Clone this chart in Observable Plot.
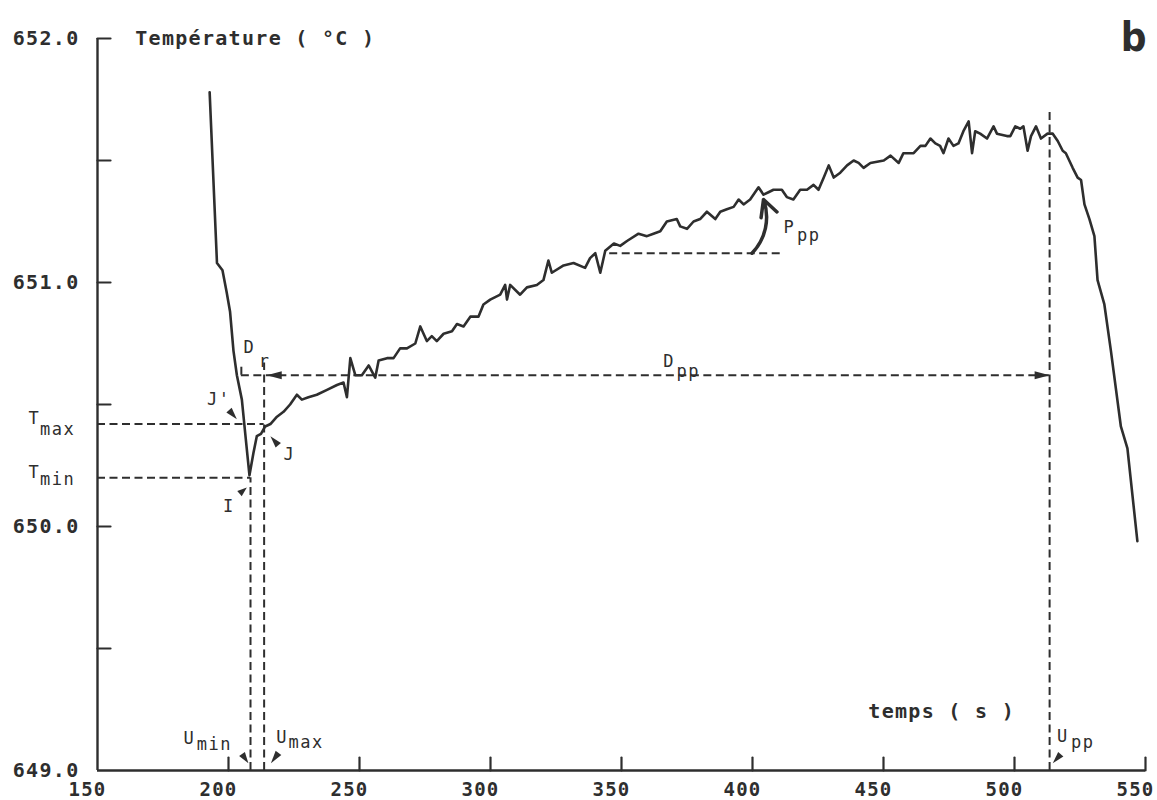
<!DOCTYPE html>
<html>
<head>
<meta charset="utf-8">
<script src="https://cdn.jsdelivr.net/npm/d3@7"></script>
<script src="https://cdn.jsdelivr.net/npm/@observablehq/plot@0.6"></script>
<style>
  html, body { margin: 0; padding: 0; background: #fff; }
  #chart svg { display: block; }
</style>
</head>
<body>
<div id="chart"></div>
<script>
// ---- data: temperature (°C) vs time (s) ----
const time = [192.8,195.6,197.7,199.3,200.6,201.9,203.2,205.1,206.4,208,209.5,210.8,212.4,214,216,218.5,221,223.5,226.1,228,230.5,233.7,237.6,241.4,243.9,245.2,246.5,248.4,250.9,253.5,256,257.3,260.5,263,265.5,268.1,271.3,273.2,275.7,277.6,279.5,282.1,285.3,287.2,289.7,292.3,295.4,297.3,299.9,303.7,305.6,306.3,307.5,311.3,313.9,317.7,320.2,322.1,323.4,327.9,331.7,336.1,338,340,341.9,343.8,347.1,349.5,352.1,356.5,359.7,362.2,364.8,367.3,371.1,372.4,375,377.5,380,382.6,385.8,387.7,390.2,392.8,394.7,396.6,399.1,402.3,404.2,406.1,408,411.2,413.1,415.6,418.2,420.8,423.3,425.2,427.2,429.1,431,433.5,436.1,438.6,440.5,442.4,445,450.1,452.7,455.8,457.6,461.5,464.1,466,467.9,469.8,471.6,472.9,474.8,476.7,478.6,480.5,482.5,483.8,485,486.9,489.5,492,493.3,497.1,498.4,500.3,502.2,503.4,505,506.3,508.2,510.1,512.6,514.6,516.5,518.4,519.6,522.2,524.1,525.4,526.7,528.6,530.5,531.7,534.3,536.8,540.6,543.1,546.9];
const temp = [651.78,651.08,651.05,650.96,650.88,650.72,650.62,650.52,650.38,650.21,650.30,650.37,650.38,650.41,650.42,650.45,650.47,650.50,650.54,650.52,650.53,650.54,650.56,650.58,650.59,650.53,650.69,650.62,650.62,650.66,650.61,650.68,650.69,650.69,650.73,650.73,650.75,650.82,650.76,650.78,650.76,650.79,650.80,650.83,650.82,650.86,650.86,650.91,650.93,650.95,650.99,650.93,650.99,650.95,650.98,650.99,651.01,651.09,651.04,651.07,651.08,651.06,651.10,651.12,651.04,651.13,651.16,651.15,651.17,651.20,651.19,651.20,651.21,651.25,651.26,651.23,651.22,651.25,651.26,651.29,651.26,651.29,651.30,651.31,651.34,651.32,651.34,651.39,651.36,651.37,651.38,651.38,651.35,651.34,651.38,651.38,651.40,651.38,651.43,651.48,651.43,651.45,651.48,651.50,651.49,651.47,651.49,651.50,651.52,651.49,651.53,651.53,651.56,651.56,651.59,651.57,651.56,651.53,651.59,651.56,651.57,651.62,651.66,651.53,651.62,651.61,651.59,651.64,651.61,651.60,651.60,651.64,651.63,651.64,651.54,651.60,651.64,651.59,651.61,651.61,651.58,651.54,651.53,651.47,651.43,651.42,651.32,651.26,651.19,651.01,650.91,650.72,650.41,650.32,649.94];

// ---- axes ----
const xTickValues = [200, 250, 300, 350, 400, 450, 500, 550];
const xLabelValues = [150, 200, 250, 300, 350, 400, 450, 500, 550];
const yTickValues = [649.5, 650, 650.5, 651, 651.5, 652];
const yLabelValues = [649, 650, 651, 652];
const yTitle = "Température ( °C )";
const xTitle = "temps ( s )";
const panelTag = "b";

// ---- characteristic values ----
const Tmax = 650.42, Tmin = 650.20, Umin = 208.4, Umax = 213.6, Upp = 513.4;
const Dlevel = 650.62, Dstart = 204.9, UppTop = 651.70, DrTop = 650.67;
const Plevel = 651.12, Pstart = 345.5, Pend = 411.2;

// dashed construction lines
const hDashX1 = [150, 150, Dstart, Pstart];
const hDashX2 = [Umax, Umin, Upp, Pend];
const hDashY  = [Tmax, Tmin, Dlevel, Plevel];
const vDashX  = [Umin, Umax, Dstart, Upp];
const vDashY1 = [649, 649, Dlevel, 649];
const vDashY2 = [Tmin, DrTop, DrTop, UppTop];

// annotation labels (main letters and subscripts)
const annText = ["T","max","T","min","J'","J","I","D","r","D","pp","P","pp","U","min","U","max","U","pp"];
const annX    = [123.7,128.1,123.7,128.1,191.8,221.0,197.9,205.7,211.5,365.9,371.0,411.8,417.0,182.8,187.9,218.2,222.9,516.2,521.6];
const annY    = [650.441,650.399,650.223,650.193,650.52,650.294,650.083,650.732,650.677,650.676,650.637,651.227,651.191,649.13,649.106,649.137,649.113,649.14,649.113];

// pointer wedges: tip position, direction (deg clockwise from up), length
const wedgeX   = [203.2, 216.0, 207.0, 207.6, 216.2, 514.6];
const wedgeY   = [650.44, 650.37, 650.16, 649.03, 649.03, 649.03];
const wedgeRot = [139, 319, 50, 145, 216, 222];
const wedgeLen = [15, 15, 12, 14, 16, 15];

// Dpp arrow heads
const headX = [214.6, Upp], headY = [Dlevel, Dlevel], headRot = [270, 90];

const ink = "#2e2e2e";
const idx = (a) => d3.range(a.length);
const lineShape = {draw(ctx, l) { ctx.moveTo(0, 0); ctx.lineTo(0, -l); }};
const dash = "8,4.5";

const curve = time.map((t, i) => ({t, v: temp[i]}));

const chart = Plot.plot({
  width: 1157,
  height: 800,
  marginLeft: 97,
  marginRight: 12,
  marginTop: 38,
  marginBottom: 30,
  x: {domain: [150, 550]},
  y: {domain: [649, 652]},
  style: {background: "#fff", color: ink, fontFamily: "'DejaVu Sans Mono', monospace"},
  marks: [
    // tick labels
    Plot.axisX(xLabelValues, {tickSize: 0, tickPadding: 12, dx: -10, fontSize: 19, fontWeight: "bold", tickFormat: d => String(d), label: null, fill: ink}),
    Plot.axisY(yLabelValues, {tickSize: 0, tickPadding: 18, fontSize: 20, fontWeight: "bold", tickFormat: d3.format(".1f"), label: null, fill: ink}),
    // axis lines
    Plot.ruleX([150], {y1: 649, y2: 652, stroke: ink, strokeWidth: 2.4}),
    Plot.ruleY([649], {x1: 150, x2: 550, stroke: ink, strokeWidth: 2.4}),
    // inward ticks
    Plot.vector(xTickValues, {x: d => d, y: 649, length: 13, anchor: "start", rotate: 0, shape: lineShape, stroke: ink, strokeWidth: 2.2}),
    Plot.vector(yTickValues, {x: 150, y: d => d, length: 13, anchor: "start", rotate: 90, shape: lineShape, stroke: ink, strokeWidth: 2.2}),
    // dashed construction lines
    Plot.ruleY(idx(hDashY), {y: i => hDashY[i], x1: i => hDashX1[i], x2: i => hDashX2[i], stroke: ink, strokeWidth: 2, strokeDasharray: dash}),
    Plot.ruleX(idx(vDashX), {x: i => vDashX[i], y1: i => vDashY1[i], y2: i => vDashY2[i], stroke: ink, strokeWidth: 2, strokeDasharray: dash}),
    // temperature curve
    Plot.line(curve, {x: "t", y: "v", stroke: ink, strokeWidth: 2.6, strokeLinejoin: "round", strokeLinecap: "round"}),
    // Dpp arrowheads
    Plot.vector(idx(headX), {x: i => headX[i], y: i => headY[i], rotate: i => headRot[i], length: 15, r: 4, anchor: "end", shape: "spike", fill: ink, stroke: "none"}),
    // pointer wedges
    Plot.vector(idx(wedgeX), {x: i => wedgeX[i], y: i => wedgeY[i], rotate: i => wedgeRot[i], length: i => wedgeLen[i], r: 3.5, anchor: "end", shape: "spike", fill: ink, stroke: "none"}),
    // Ppp curved arrow
    Plot.arrow([0], {x1: 399.8, y1: Plevel, x2: 404.2, y2: 651.34, bend: -32, stroke: ink, strokeWidth: 3.5, headLength: 10, headAngle: 55}),
    // annotation letters
    Plot.text(idx(annText), {x: i => annX[i], y: i => annY[i], text: i => annText[i], textAnchor: "start", lineAnchor: "middle", fontSize: 17, fill: ink}),
    // axis titles
    Plot.text([yTitle], {x: 164.4, y: 652, text: d => d, textAnchor: "start", lineAnchor: "middle", fontSize: 20, fontWeight: "bold", fill: ink}),
    Plot.text([xTitle], {x: 444.2, y: 649.24, text: d => d, textAnchor: "start", lineAnchor: "middle", fontSize: 20, fontWeight: "bold", fill: ink}),
    // panel tag
    Plot.text([panelTag], {x: 545.5, y: 652, text: d => d, textAnchor: "middle", lineAnchor: "middle", fontSize: 40, fontWeight: "bold", fontFamily: "'DejaVu Sans Condensed', 'Liberation Sans Narrow', sans-serif", fill: ink})
  ]
});
document.getElementById("chart").appendChild(chart);

// letter spacing to match the wide plotter lettering
const svg = d3.select(chart);
svg.selectAll("text").each(function () {
  const t = this.textContent;
  const sel = d3.select(this);
  if (t === yTitle || t === xTitle) sel.style("letter-spacing", "1.3px");
  else if (/^\d+(\.\d)?$/.test(t)) sel.style("letter-spacing", "1.3px");
  else if (annText.includes(t) && t.length > 1) sel.style("letter-spacing", "1.5px");
});
</script>
</body>
</html>
